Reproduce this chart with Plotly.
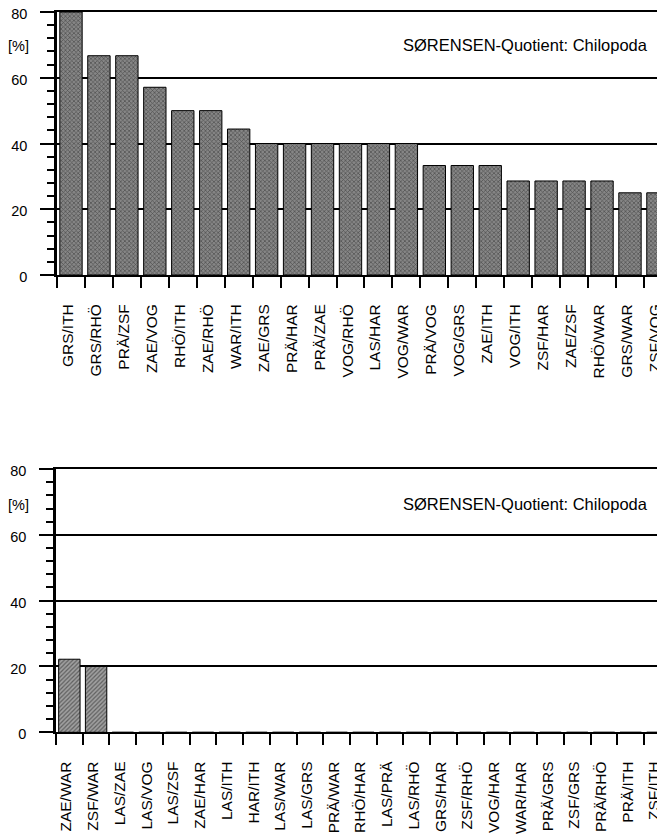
import plotly.graph_objects as go

# ---- data ----
top_labels = ["GRS/ITH", "GRS/RHÖ", "PRÄ/ZSF", "ZAE/VOG", "RHÖ/ITH", "ZAE/RHÖ", "WAR/ITH",
              "ZAE/GRS", "PRÄ/HAR", "PRÄ/ZAE", "VOG/RHÖ", "LAS/HAR", "VOG/WAR", "PRÄ/VOG",
              "VOG/GRS", "ZAE/ITH", "VOG/ITH", "ZSF/HAR", "ZAE/ZSF", "RHÖ/WAR", "GRS/WAR", "ZSF/VOG"]
top_values = [80, 66.7, 66.7, 57.1, 50, 50, 44.4,
              40, 40, 40, 40, 40, 40, 33.3,
              33.3, 33.3, 28.6, 28.6, 28.6, 28.6, 25, 25]

bottom_labels = ["ZAE/WAR", "ZSF/WAR", "LAS/ZAE", "LAS/VOG", "LAS/ZSF", "ZAE/HAR", "LAS/ITH",
                 "HAR/ITH", "LAS/WAR", "LAS/GRS", "PRÄ/WAR", "RHÖ/HAR", "LAS/PRÄ", "LAS/RHÖ",
                 "GRS/HAR", "ZSF/RHÖ", "VOG/HAR", "WAR/HAR", "PRÄ/GRS", "ZSF/GRS", "PRÄ/RHÖ",
                 "PRÄ/ITH", "ZSF/ITH"]
bottom_values = [22.2, 20, 0, 0, 0, 0, 0,
                 0, 0, 0, 0, 0, 0, 0,
                 0, 0, 0, 0, 0, 0, 0,
                 0, 0]

y_ticks = [0, 20, 40, 60, 80]
title_text = "SØRENSEN-Quotient: Chilopoda"
unit_text = "[%]"

FONT = "Liberation Sans, Arial, Helvetica, sans-serif"
# the page body has an 8px margin; size the figure so it ends at the window edge
OFF = 8
W, H = 665 - OFF, 837 - OFF

fig = go.Figure()

fig.add_trace(go.Bar(
    x=top_labels, y=top_values, xaxis="x", yaxis="y", width=0.8,
    marker=dict(color="#808080",
                pattern=dict(shape="x", fgcolor="#161616", bgcolor="#868686", size=3, solidity=0.4),
                line=dict(color="black", width=1)),
    showlegend=False,
))
fig.add_trace(go.Bar(
    x=bottom_labels, y=bottom_values, xaxis="x2", yaxis="y2", width=0.8,
    marker=dict(color="#9a9a9a",
                pattern=dict(shape="/", fgcolor="#1e1e1e", bgcolor="#a0a0a0", size=3, solidity=0.4),
                line=dict(color="black", width=1)),
    showlegend=False,
))

# window pixel geometry -> paper fractions
def px(x):
    return (x - OFF) / W

def py(y):
    return 1 - (y - OFF) / H

top_spacing = 27.95
bot_spacing = 26.73

common_x = dict(
    type="category", tickson="boundaries", ticks="outside", ticklen=11, tickwidth=2,
    tickcolor="black", showline=True, mirror=True, linecolor="black", linewidth=2,
    showgrid=False, tickangle=-90, tickfont=dict(family=FONT, size=15.5, color="black"),
    ticklabelstandoff=21, ticklabelshift=-3, zeroline=False, automargin=False,
    ticklabeloverflow="allow",
)
common_y = dict(
    range=[0, 80], tickvals=y_ticks, ticks="outside", ticklen=14, tickwidth=2,
    tickcolor="black", showline=True, linecolor="black", linewidth=2.5,
    showgrid=True, gridcolor="black", gridwidth=1.5, zeroline=False,
    tickfont=dict(family=FONT, size=14.5, color="black"), ticklabelstandoff=10,
    ticklabelshift=2,
    minor=dict(dtick=4, ticks="outside", ticklen=7, tickwidth=2, tickcolor="black", showgrid=False),
    automargin=False, ticklabeloverflow="allow",
)

fig.update_layout(
    width=W, height=H,
    margin=dict(l=0, r=0, t=0, b=0, autoexpand=False),
    paper_bgcolor="white", plot_bgcolor="white",
    bargap=0.2,
    xaxis=dict(common_x, domain=[px(57), 1], anchor="y",
               range=[-0.5, -0.5 + (665 - 57) / top_spacing]),
    yaxis=dict(common_y, domain=[py(275), py(12)], anchor="x"),
    xaxis2=dict(common_x, domain=[px(56), 1], anchor="y2",
                range=[-0.5, -0.5 + (665 - 56) / bot_spacing]),
    yaxis2=dict(common_y, domain=[py(732.3), py(469)], anchor="x2"),
    font=dict(family=FONT, color="black"),
)

for yc in (45, 504):
    fig.add_annotation(text=title_text, xref="paper", yref="paper",
                       x=px(650), y=py(yc), xanchor="right", yanchor="middle",
                       showarrow=False, font=dict(family=FONT, size=16.5, color="black"))
    fig.add_annotation(text=unit_text, xref="paper", yref="paper",
                       x=px(31), y=py(yc + 1), xanchor="right", yanchor="middle",
                       showarrow=False, font=dict(family=FONT, size=14.5, color="black"))

fig.write_html("out.html")
